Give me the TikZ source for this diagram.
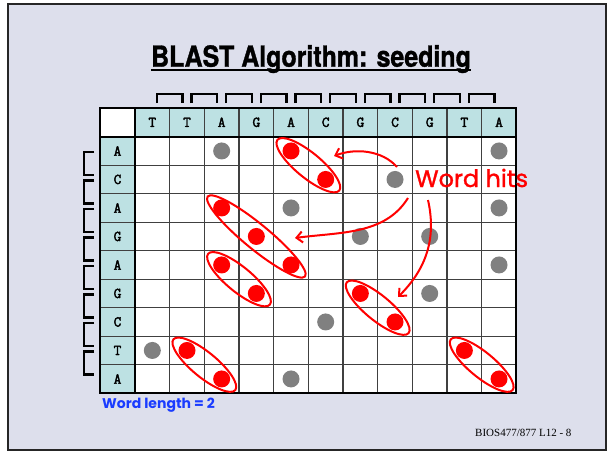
\documentclass[tikz,border=0pt]{standalone}
\usepackage{fontspec}
\setmainfont{Liberation Serif}
\newfontfamily\titlefont[FakeStretch=0.86,FakeBold=1.2]{TeX Gyre Heros}
\newfontfamily\cellfont[FakeBold=2.5]{Latin Modern Mono}
\newfontfamily\handfont[FakeBold=1.2]{Poppins}
\newfontfamily\handfontb{Poppins}
\usetikzlibrary{arrows.meta,shapes.geometric}
\definecolor{bgcol}{HTML}{DDDFEC}
\definecolor{hdrcol}{HTML}{BDE1E3}
\definecolor{dotgray}{HTML}{808080}
\definecolor{hitred}{HTML}{FF0000}
\definecolor{wlblue}{HTML}{1A3CFF}
\begin{document}
\begin{tikzpicture}[x=1pt,y=-1pt,
  gridline/.style={draw=black!75, line width=1.1pt},
  thickline/.style={draw=black, line width=2pt},
  hdr/.style={font=\cellfont\fontsize{15}{15}\selectfont, inner sep=0pt},
  graydot/.style={circle, fill=dotgray, minimum size=17pt, inner sep=0pt},
  reddot/.style={circle, fill=hitred, minimum size=17pt, inner sep=0pt},
  hitshort/.style={ellipse, draw=hitred, line width=2pt, minimum width=80pt, minimum height=25pt, inner sep=0pt, rotate=-39.4},
  hitlong/.style={hitshort, minimum width=126pt},
  bracket/.style={draw=black, line width=2.2pt, line join=miter},
  arr/.style={draw=hitred, line width=2pt, -{Straight Barb[length=6pt,width=11pt]}},
]
\useasboundingbox (0,0) rectangle (608,452);
\fill[white] (0,0) rectangle (608,452);
\draw[fill=bgcol, draw=black!85, line width=2pt] (8,4) rectangle (606,450);

% title
\node[anchor=base, font=\titlefont\bfseries\fontsize{29}{29}\selectfont, inner sep=0pt] (title) at (311,66.7) {BLAST Algorithm: seeding};
\draw[line width=2pt] ([yshift=-3.5pt]title.base west) -- ([yshift=-3.5pt]title.base east);

% table fills
\fill[hdrcol] (135,108) rectangle (516.4,136.7);
\fill[hdrcol] (100,136.7) rectangle (135,393.2);
\fill[white] (100,108) rectangle (135,136.7);
\fill[white] (135,136.7) rectangle (516.4,393.2);

% grid lines
\foreach \i in {1,...,10} \draw[gridline] ({135+\i*34.67},108) -- ({135+\i*34.67},393.2);
\foreach \j in {1,...,8} \draw[gridline] (100,{136.7+\j*28.5}) -- (516.4,{136.7+\j*28.5});
\draw[thickline] (135,108) -- (135,393.2);
\draw[thickline] (100,136.7) -- (516.4,136.7);
\draw[thickline] (100,108) rectangle (516.4,393.2);

% header letters
\foreach \l [count=\c] in {T,T,A,G,A,C,G,C,G,T,A}
  \node[hdr] (h\c) at ({135+(\c-0.5)*34.67},122.3) {\l};
\foreach \l [count=\r] in {A,C,A,G,A,G,C,T,A}
  \node[hdr] (v\r) at (117.5,{136.7+(\r-0.5)*28.5}) {\l};

% top brackets
\foreach \i in {1,...,10}
  \draw[bracket] ({135+(\i-0.5)*34.67+4.5},103) -- ({135+(\i-0.5)*34.67+4.5},94)
     -- ({135+(\i+0.5)*34.67-4.5},94) -- ({135+(\i+0.5)*34.67-4.5},103);
% left brackets
\foreach \j in {1,...,8}
  \draw[bracket] (94,{136.7+(\j-0.5)*28.5+1}) -- (84,{136.7+(\j-0.5)*28.5+1})
     -- (84,{136.7+(\j-0.5)*28.5+24}) -- (94,{136.7+(\j-0.5)*28.5+24});

% dots
\foreach \r/\c in {1/3,1/11,2/8,3/5,3/11,4/7,4/9,5/11,6/9,7/6,8/1,9/5}
  \node[graydot] (g-\r-\c) at ({135+(\c-0.5)*34.67},{136.7+(\r-0.5)*28.5}) {};
\foreach \r/\c in {1/5,2/6,3/3,4/4,5/3,5/5,6/4,6/7,7/8,8/2,8/10,9/3,9/11}
  \node[reddot] (r-\r-\c) at ({135+(\c-0.5)*34.67},{136.7+(\r-0.5)*28.5}) {};

% word-hit ellipses
\node[hitshort] (e1) at ({135+5*34.67},{136.7+1*28.5}) {};
\node[hitlong]  (e2) at ({135+3.5*34.67},{136.7+3.5*28.5}) {};
\node[hitshort] (e3) at ({135+3*34.67},{136.7+5*28.5}) {};
\node[hitshort] (e4) at ({135+7*34.67},{136.7+6*28.5}) {};
\node[hitshort] (e5) at ({135+2*34.67},{136.7+8*28.5}) {};
\node[hitshort] (e6) at ({135+10*34.67},{136.7+8*28.5}) {};

% labels
\node[anchor=base west, text=hitred, font=\handfont\fontsize{24}{24}\selectfont, inner sep=0pt] (wh) at (415,187) {Word hits};
\node[anchor=base west, text=wlblue, font=\handfontb\bfseries\fontsize{14}{14}\selectfont, inner sep=0pt] (wl) at (102,408.5) {Word length = 2};
\node[anchor=base west, font=\fontsize{11}{11}\selectfont, inner sep=0pt] (ft) at (475,436.7) {BIOS477/877 L12 - 8};

% arrows
\coordinate (s1) at (397,167);
\coordinate (t1) at (334,156);
\coordinate (s2) at (408,198);
\coordinate (t2) at (295,238);
\coordinate (s3) at (428,200);
\coordinate (t3) at (398,297);
\draw[arr] (s1) .. controls (382,150) and (355,148) .. (t1);
\draw[arr] (s2) .. controls (385,235) and (340,232) .. (t2);
\draw[arr] (s3) .. controls (437,240) and (425,270) .. (t3);
\end{tikzpicture}
\end{document}
